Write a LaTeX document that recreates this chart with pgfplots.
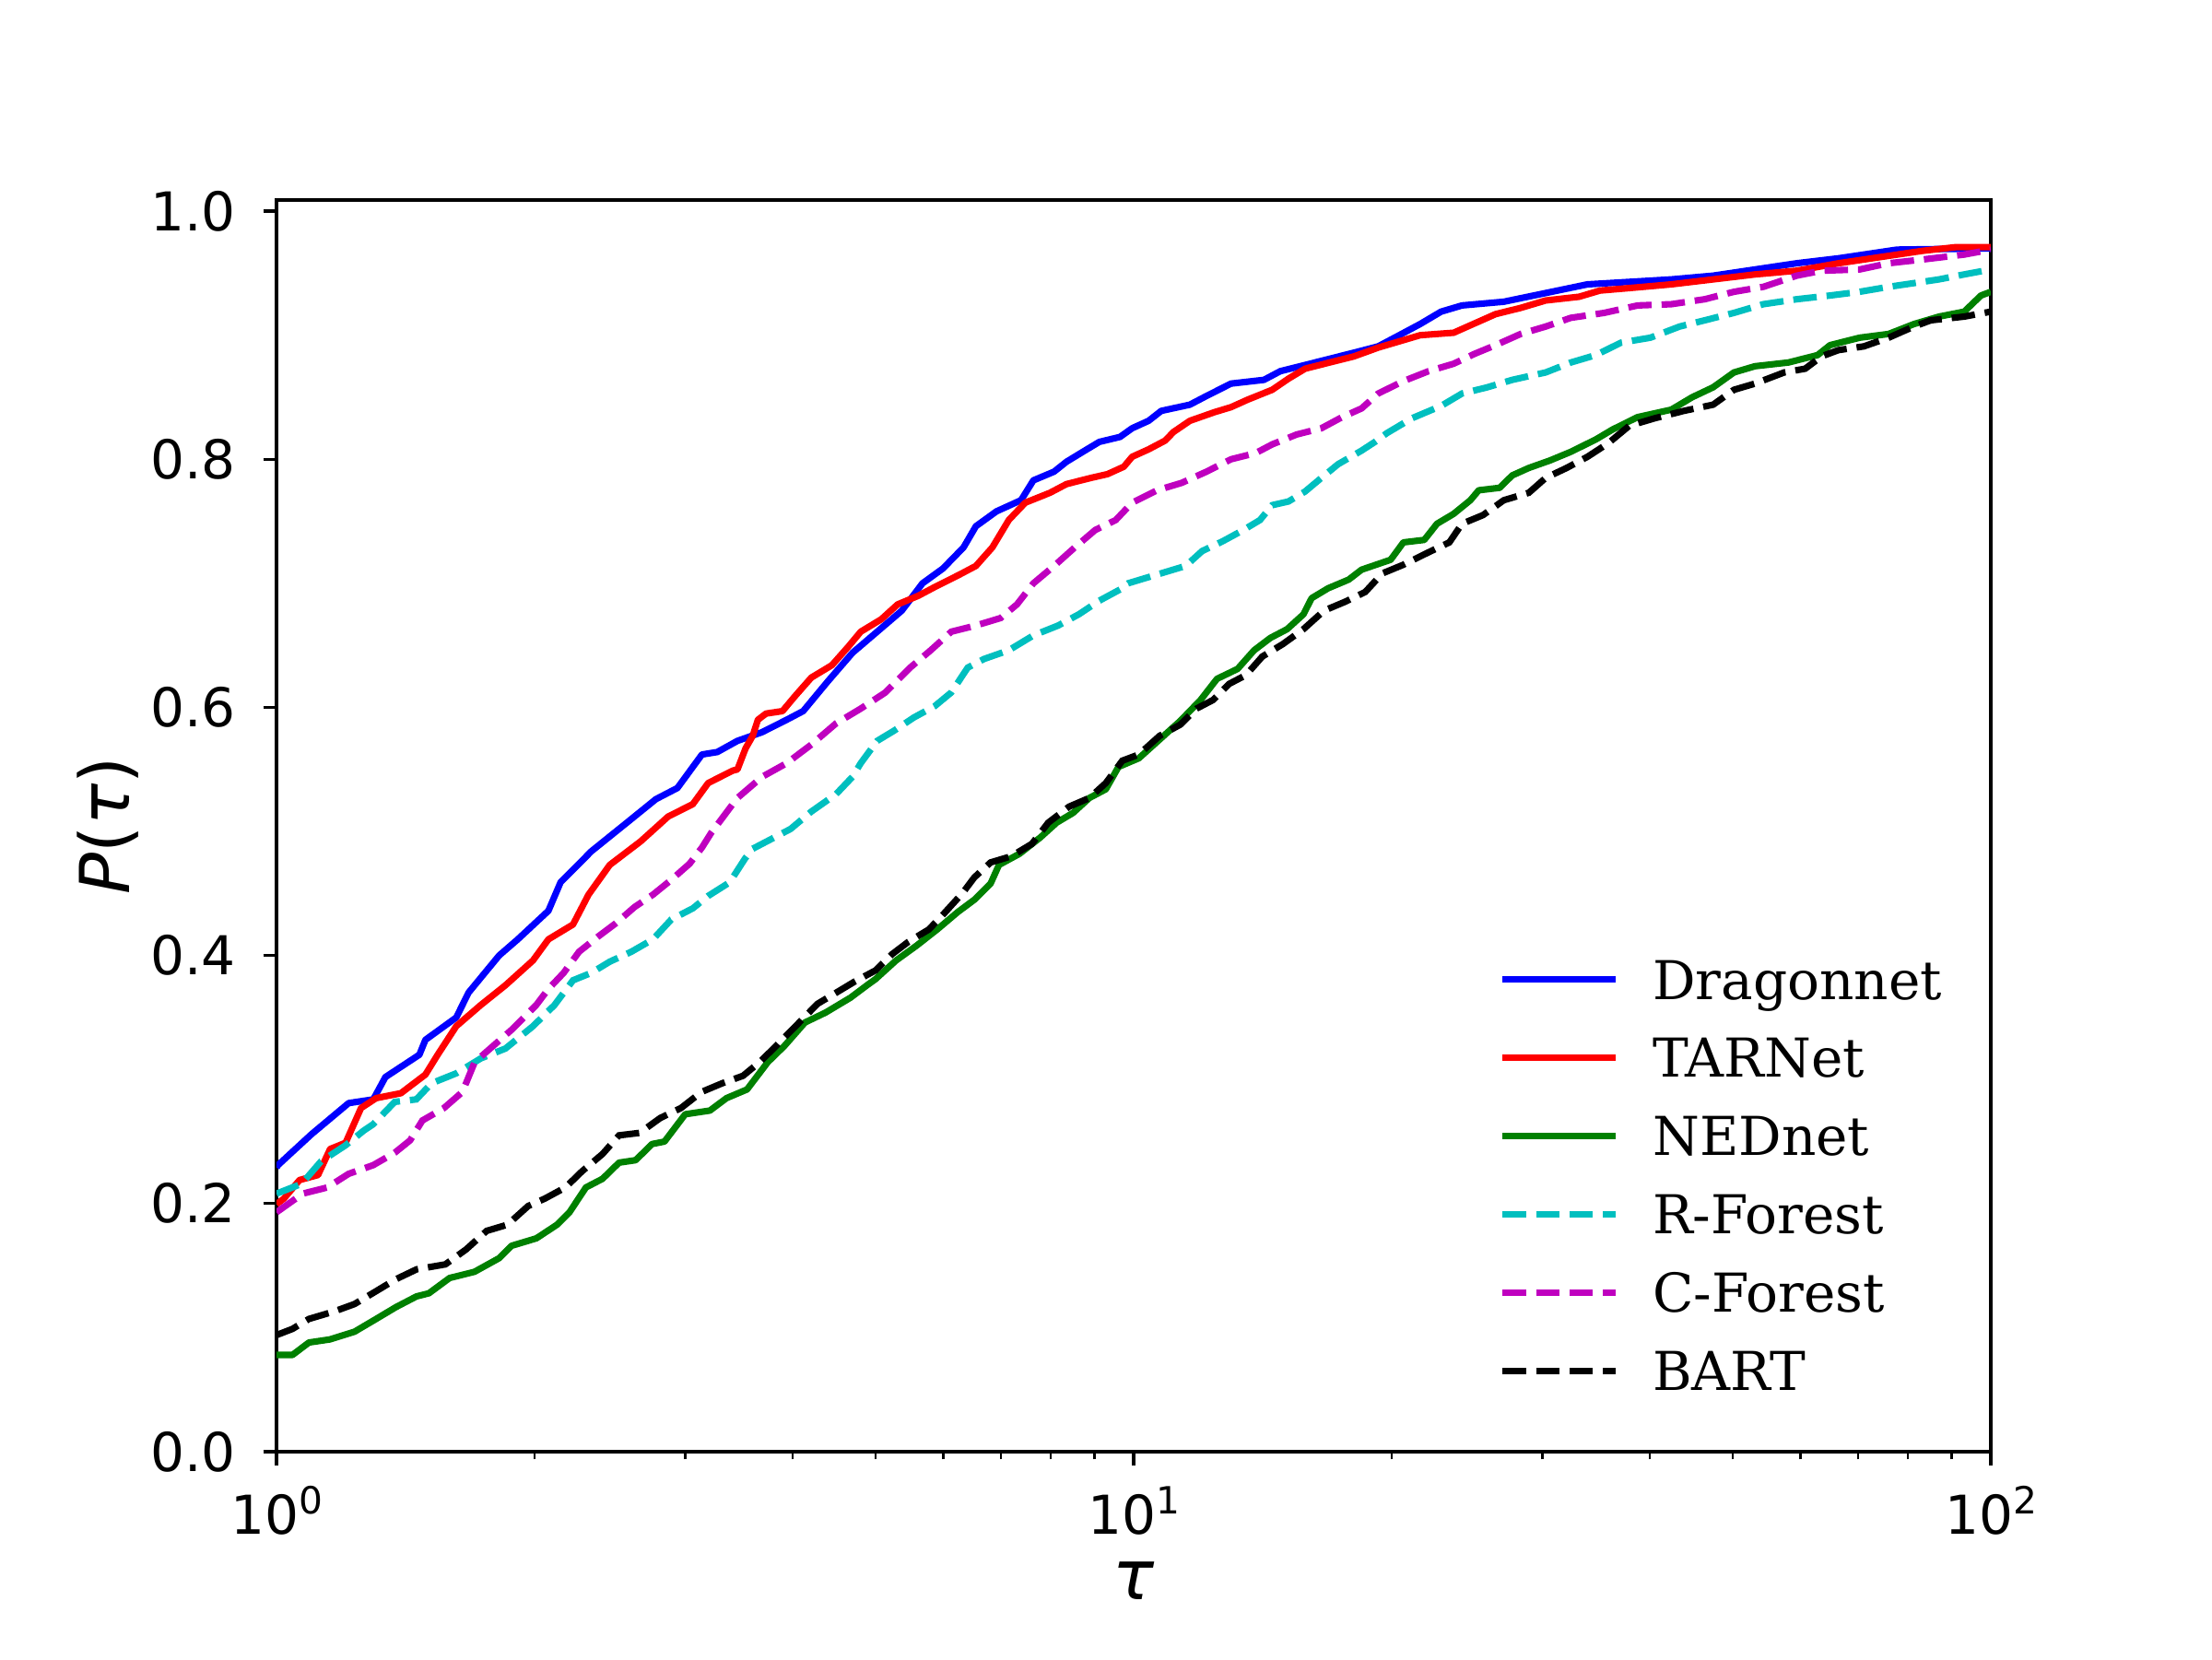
\documentclass[border=0pt]{standalone}
\usepackage{fontspec}
\setmainfont{DejaVu Serif}
\newfontfamily\dvs{DejaVu Sans}
\usepackage{pgfplots}
\pgfplotsset{compat=1.18}
\definecolor{mplc}{HTML}{00BFBF}
\definecolor{mplm}{HTML}{BF00BF}
\definecolor{mplg}{HTML}{008000}
\newcommand{\tenpow}[1]{{\dvs 10\raisebox{5.3pt}{\fontsize{9.8}{10}\selectfont #1}}}
\begin{document}
\begin{tikzpicture}
\path[use as bounding box] (0,0) rectangle (576bp,432bp);
\begin{axis}[
  at={(72bp,54bp)}, anchor=south west,
  scale only axis, width=446.4bp, height=325.92bp,
  xmode=log, xmin=1, xmax=100, ymin=0, ymax=1.009,
  xtick={1,10,100}, xticklabels={\tenpow{0},\tenpow{1},\tenpow{2}},
  minor xtick={2,3,4,5,6,7,8,9,20,30,40,50,60,70,80,90},
  ytick={0,0.2,0.4,0.6,0.8,1}, yticklabels={0.0,0.2,0.4,0.6,0.8,1.0},
  tick pos=left, tick align=outside,
  major tick length=3.5bp, minor tick length=2bp,
  every tick/.style={black, line width=0.8bp},
  every minor tick/.style={black, line width=0.6bp},
  axis line style={line width=0.8bp},
  xticklabel style={font=\dvs\fontsize{14}{16}\selectfont, anchor=base, inner sep=0pt, yshift=-18bp},
  yticklabel style={font=\dvs\fontsize{14}{16}\selectfont, anchor=east, inner sep=0pt, xshift=-7bp},
  xlabel={\dvs\fontsize{18}{20}\selectfont\itshape τ},
  ylabel={\dvs\fontsize{18}{20}\selectfont\itshape P\upshape(\itshape τ\upshape)},
  xlabel style={at={(axis description cs:0.5,0)}, anchor=center, yshift=-33.6bp, inner sep=0pt},
  ylabel style={at={(axis description cs:-0.0984,0.5)}, anchor=center, inner sep=0pt},
  legend cell align=left,
  legend style={at={(axis description cs:0.7134,0.3927)}, anchor=north west, draw=none, fill=none,
    inner sep=0pt, outer sep=0pt, row sep=10.2bp, font=\fontsize{14}{16}\selectfont,
    nodes={inner sep=0pt, text height=10.2pt, text depth=0pt}},
  legend image code/.code={\draw[#1] (0bp,0bp) -- (29.3bp,0bp); \path (38.2bp,0bp);},
  solid/.style={line width=1.7bp, line join=round},
  dashd/.style={line width=1.7bp, dash pattern=on 6.1bp off 2.6bp},
]
\addplot[blue, solid] table {
1.0 0.229
1.004 0.231
1.099 0.256
1.214 0.281
1.297 0.284
1.34 0.302
1.468 0.320
1.492 0.332
1.621 0.350
1.675 0.370
1.819 0.400
1.912 0.413
2.076 0.436
2.145 0.459
2.33 0.484
2.552 0.506
2.771 0.526
2.936 0.535
3.136 0.562
3.268 0.564
3.45 0.573
3.686 0.580
3.938 0.590
4.116 0.597
4.398 0.621
4.699 0.644
5.021 0.661
5.365 0.678
5.671 0.700
5.993 0.712
6.333 0.729
6.546 0.746
6.918 0.758
7.39 0.767
7.64 0.783
8.075 0.790
8.35 0.798
8.82 0.808
9.12 0.814
9.64 0.818
9.96 0.825
10.41 0.831
10.77 0.839
11.63 0.844
12.16 0.851
12.99 0.861
14.19 0.864
14.83 0.871
15.85 0.876
16.93 0.881
18.09 0.886
19.29 0.891
20.41 0.900
21.59 0.909
22.84 0.919
24.16 0.924
27.03 0.927
30.25 0.934
33.84 0.941
42.39 0.945
47.43 0.948
53.07 0.953
59.37 0.958
66.43 0.962
77.74 0.969
100 0.970
};
\addlegendentry{Dragonnet}
\addplot[red, solid] table {
1.0 0.1995
1.02 0.204
1.064 0.219
1.118 0.223
1.155 0.244
1.204 0.249
1.255 0.277
1.307 0.285
1.397 0.289
1.492 0.304
1.542 0.320
1.621 0.343
1.731 0.360
1.85 0.376
1.992 0.396
2.076 0.413
2.218 0.425
2.312 0.449
2.448 0.473
2.66 0.492
2.864 0.512
3.06 0.522
3.189 0.539
3.406 0.549
3.45 0.550
3.526 0.567
3.594 0.577
3.645 0.590
3.726 0.595
3.894 0.597
4.026 0.609
4.207 0.624
4.446 0.634
4.647 0.649
4.804 0.661
5.076 0.671
5.305 0.683
5.609 0.690
5.861 0.697
6.263 0.707
6.546 0.714
6.843 0.729
7.15 0.751
7.475 0.765
7.99 0.773
8.35 0.780
8.92 0.785
9.32 0.788
9.74 0.794
9.96 0.802
10.41 0.808
10.88 0.815
11.13 0.822
11.63 0.831
12.43 0.838
12.99 0.842
13.58 0.848
14.51 0.856
15.16 0.865
15.85 0.873
16.93 0.878
18.09 0.883
19.29 0.890
21.59 0.900
23.62 0.902
24.71 0.908
26.44 0.917
28.28 0.922
30.25 0.928
33.09 0.931
35.0 0.936
37.87 0.938
42.39 0.941
47.43 0.945
53.07 0.949
59.37 0.952
66.43 0.958
74.33 0.963
83.2 0.968
91.0 0.971
100 0.971
};
\addlegendentry{TARNet}
\addplot[mplg, solid] table {
1.0 0.078
1.044 0.078
1.091 0.088
1.154 0.0905
1.233 0.0967
1.304 0.1066
1.378 0.1165
1.457 0.1252
1.506 0.1277
1.592 0.140
1.702 0.145
1.819 0.156
1.881 0.166
2.010 0.172
2.125 0.183
2.197 0.193
2.296 0.213
2.401 0.220
2.51 0.233
2.624 0.235
2.743 0.248
2.836 0.250
2.998 0.272
3.204 0.275
3.35 0.285
3.54 0.292
3.743 0.314
3.913 0.327
4.136 0.346
4.372 0.354
4.674 0.366
4.886 0.376
5.0 0.381
5.283 0.396
5.583 0.408
5.90 0.421
6.235 0.435
6.52 0.445
6.81 0.458
6.965 0.473
7.36 0.482
7.78 0.495
8.13 0.507
8.50 0.515
8.88 0.527
9.28 0.534
9.60 0.552
10.14 0.559
10.72 0.574
11.33 0.589
11.97 0.606
12.51 0.623
13.22 0.631
13.82 0.646
14.44 0.656
15.1 0.663
15.78 0.675
16.13 0.688
16.86 0.696
17.82 0.703
18.45 0.711
19.95 0.719
20.64 0.733
21.83 0.735
22.59 0.748
23.62 0.756
24.71 0.767
25.27 0.775
26.73 0.777
27.65 0.787
28.91 0.793
30.59 0.799
32.36 0.806
34.62 0.816
36.21 0.824
38.73 0.834
42.39 0.840
44.83 0.850
47.43 0.858
50.16 0.870
53.07 0.875
58.05 0.878
62.81 0.884
64.94 0.892
70.3 0.898
76.0 0.901
81.35 0.909
87.0 0.915
93.1 0.919
97.4 0.932
100 0.935
};
\addlegendentry{NEDnet}
\addplot[mplc, dashd] table {
1.0 0.208
1.07 0.216
1.127 0.234
1.204 0.247
1.265 0.259
1.297 0.264
1.374 0.282
1.456 0.284
1.517 0.297
1.621 0.305
1.731 0.317
1.85 0.325
1.992 0.343
2.11 0.360
2.218 0.380
2.33 0.386
2.448 0.395
2.594 0.403
2.749 0.413
2.888 0.429
3.06 0.438
3.189 0.448
3.379 0.459
3.52 0.478
3.594 0.486
3.98 0.502
4.207 0.516
4.495 0.530
4.699 0.544
4.804 0.555
5.021 0.573
5.248 0.581
5.546 0.592
5.861 0.601
6.127 0.612
6.403 0.632
6.69 0.639
7.15 0.646
7.64 0.658
8.166 0.666
8.63 0.675
9.12 0.686
9.64 0.695
9.85 0.700
10.88 0.709
11.5 0.714
12.02 0.726
12.71 0.734
13.43 0.743
14.04 0.751
14.51 0.763
15.16 0.766
15.85 0.774
16.56 0.785
17.32 0.796
18.45 0.807
19.12 0.814
19.74 0.821
21.11 0.833
22.84 0.843
24.16 0.853
25.85 0.858
27.65 0.864
30.25 0.870
32.36 0.878
34.62 0.884
37.03 0.894
40.07 0.898
43.35 0.907
46.37 0.912
50.16 0.918
54.28 0.925
59.37 0.929
64.94 0.932
70.3 0.935
76.0 0.939
81.35 0.942
87.0 0.945
93.1 0.949
100 0.953
};
\addlegendentry{R-Forest}
\addplot[mplm, dashd] table {
1.0 0.193
1.073 0.208
1.146 0.213
1.214 0.224
1.297 0.231
1.374 0.241
1.432 0.251
1.48 0.267
1.568 0.277
1.648 0.290
1.703 0.314
1.789 0.327
1.88 0.340
2.009 0.360
2.076 0.373
2.163 0.386
2.254 0.403
2.37 0.415
2.489 0.426
2.616 0.439
2.749 0.449
2.888 0.461
3.034 0.474
3.136 0.487
3.216 0.499
3.406 0.522
3.45 0.527
3.686 0.544
3.938 0.555
4.207 0.570
4.495 0.587
4.804 0.599
5.133 0.612
5.485 0.632
5.797 0.646
6.127 0.661
6.546 0.666
6.995 0.672
7.31 0.683
7.64 0.700
8.075 0.714
8.54 0.729
9.02 0.743
9.53 0.751
9.96 0.765
10.65 0.775
11.38 0.781
12.16 0.790
12.99 0.800
13.88 0.805
14.51 0.812
15.5 0.820
16.56 0.825
17.51 0.834
18.45 0.841
19.29 0.853
20.64 0.863
22.08 0.871
23.62 0.877
24.99 0.885
26.44 0.892
28.28 0.901
30.25 0.907
32.36 0.914
35.4 0.918
38.73 0.924
42.39 0.925
46.37 0.929
50.16 0.935
54.28 0.939
59.37 0.948
63.5 0.952
70.3 0.953
76.0 0.958
83.2 0.961
93.1 0.965
100 0.969
};
\addlegendentry{C-Forest}
\addplot[black, dashd] table {
1.0 0.094
1.044 0.099
1.091 0.107
1.167 0.113
1.233 0.119
1.304 0.129
1.378 0.139
1.457 0.147
1.574 0.151
1.664 0.163
1.759 0.178
1.86 0.183
1.966 0.198
2.056 0.204
2.173 0.213
2.272 0.226
2.401 0.240
2.51 0.255
2.653 0.257
2.804 0.269
2.964 0.277
3.133 0.290
3.312 0.297
3.502 0.303
3.661 0.314
3.827 0.327
4.046 0.344
4.277 0.361
4.522 0.371
4.727 0.379
5.0 0.388
5.225 0.401
5.46 0.411
5.77 0.421
6.03 0.435
6.31 0.450
6.52 0.463
6.81 0.475
7.20 0.480
7.61 0.490
7.95 0.507
8.41 0.520
8.88 0.527
9.28 0.539
9.70 0.557
10.14 0.562
10.72 0.577
11.33 0.586
11.84 0.599
12.38 0.606
12.93 0.619
13.52 0.626
14.13 0.641
14.93 0.651
15.78 0.663
16.68 0.678
17.63 0.685
18.63 0.693
19.51 0.708
20.64 0.715
22.08 0.725
23.35 0.733
24.16 0.748
25.56 0.755
27.03 0.767
28.91 0.773
30.25 0.785
32.0 0.793
33.84 0.802
35.8 0.813
37.87 0.827
40.52 0.833
43.84 0.839
47.43 0.844
50.16 0.856
53.07 0.861
57.41 0.870
60.73 0.873
63.5 0.883
66.43 0.888
71.1 0.891
76.0 0.898
81.35 0.907
85.1 0.912
93.1 0.915
100 0.919
};
\addlegendentry{BART}
\end{axis}
\end{tikzpicture}
\end{document}
